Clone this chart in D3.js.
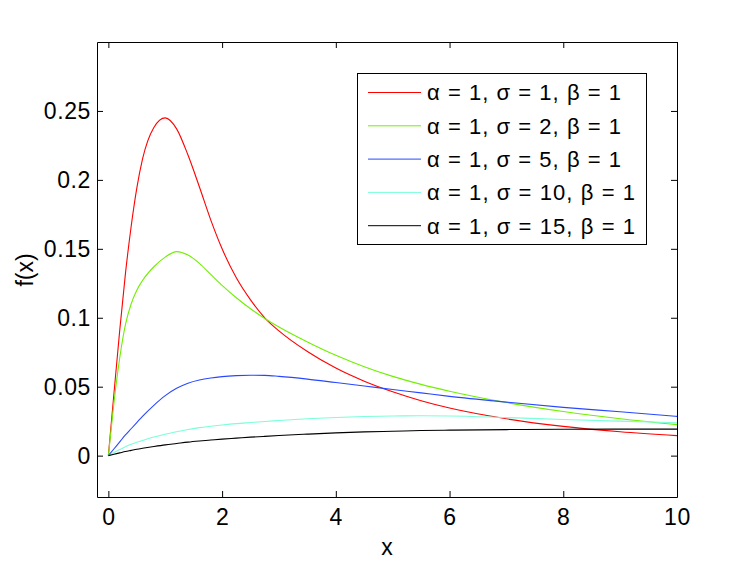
<!DOCTYPE html>
<html>
<head>
<meta charset="utf-8">
<script src="https://cdn.jsdelivr.net/npm/d3@7"></script>
<style>
  body { margin: 0; background: #fff; }
  svg { display: block; font-family: "Liberation Sans", Helvetica, Arial, sans-serif; }
  .axis text { font-size: 23px; fill: #000; letter-spacing: 0.6px; }
  .axis path, .axis line { stroke: #000; stroke-width: 1; }
</style>
</head>
<body>
<div id="viz"></div>
<script>
// x positions shared by all curves
var xs = [0, 0.1, 0.2, 0.3, 0.4, 0.5, 0.6, 0.8, 1, 1.2, 1.4, 1.6, 1.8, 2, 2.25, 2.5, 2.75, 3, 3.5, 4, 4.5, 5, 5.5, 6, 7, 8, 9, 10];

var sigma1 = [0, 0.046, 0.091, 0.132, 0.166, 0.194, 0.215, 0.238, 0.245, 0.237, 0.218, 0.195, 0.171, 0.15, 0.129, 0.113, 0.1, 0.0905, 0.0755, 0.0635, 0.054, 0.0463, 0.0398, 0.0345, 0.0267, 0.0212, 0.0173, 0.0145];
var sigma2 = [0, 0.039, 0.071, 0.095, 0.11, 0.12, 0.127, 0.137, 0.144, 0.148, 0.1455, 0.1395, 0.1315, 0.1235, 0.1145, 0.1065, 0.0995, 0.0933, 0.0825, 0.0728, 0.0645, 0.0575, 0.0517, 0.0467, 0.0385, 0.032, 0.0268, 0.0225];
var sigma5 = [0, 0.005, 0.01, 0.015, 0.0195, 0.024, 0.0285, 0.0365, 0.0435, 0.0488, 0.0525, 0.0548, 0.0563, 0.0573, 0.058, 0.0583, 0.0582, 0.0575, 0.0555, 0.053, 0.0505, 0.048, 0.0455, 0.043, 0.0388, 0.035, 0.0318, 0.0285];
var sigma10 = [0, 0.0022, 0.0044, 0.0065, 0.0082, 0.0097, 0.011, 0.0135, 0.0155, 0.0173, 0.019, 0.0203, 0.0213, 0.0222, 0.0232, 0.024, 0.0248, 0.0255, 0.0267, 0.0277, 0.0284, 0.0288, 0.0289, 0.0288, 0.0276, 0.0262, 0.025, 0.0239];
var sigma15 = [0, 0.001, 0.002, 0.003, 0.0038, 0.0046, 0.0053, 0.0066, 0.0078, 0.0088, 0.0098, 0.0106, 0.0113, 0.012, 0.0127, 0.0134, 0.014, 0.0146, 0.0156, 0.0165, 0.0172, 0.0177, 0.0182, 0.0185, 0.0189, 0.0191, 0.0192, 0.0192];

var labels = ["α = 1, σ = 1, β = 1", "α = 1, σ = 2, β = 1", "α = 1, σ = 5, β = 1", "α = 1, σ = 10, β = 1", "α = 1, σ = 15, β = 1"];
var colors = ["#ff0000", "#70f000", "#2848ff", "#7affd8", "#000000"];

var xTicks = [0, 2, 4, 6, 8, 10];
var yTicks = [0, 0.05, 0.1, 0.15, 0.2, 0.25];

var series = [sigma1, sigma2, sigma5, sigma10, sigma15];

var width = 747, height = 562;
var svg = d3.select("#viz").append("svg").attr("width", width).attr("height", height);

var x = d3.scaleLinear().domain([-0.2, 10]).range([97, 677]);
var y = d3.scaleLinear().domain([-0.03, 0.3]).range([497, 42]);

// curves
var line = d3.line()
    .x(function(d, i) { return x(xs[i]); })
    .y(function(d) { return y(d); })
    .curve(d3.curveMonotoneX);

svg.append("g").selectAll("path")
    .data(series)
  .enter().append("path")
    .attr("d", line)
    .attr("fill", "none")
    .attr("stroke", function(d, i) { return colors[i]; })
    .attr("stroke-width", 1.1);

// axes, ticks pointing inward
svg.append("g")
    .attr("class", "axis")
    .attr("transform", "translate(0,497)")
    .call(d3.axisBottom(x).tickValues(xTicks).tickSizeInner(-6).tickSizeOuter(0).tickPadding(12).tickFormat(d3.format("d")));

svg.append("g")
    .attr("class", "axis")
    .attr("transform", "translate(0,42)")
    .call(d3.axisTop(x).tickValues(xTicks).tickSizeInner(-6).tickSizeOuter(0).tickFormat(""));

svg.append("g")
    .attr("class", "axis")
    .attr("transform", "translate(97,0)")
    .call(d3.axisLeft(y).tickValues(yTicks).tickSizeInner(-6).tickSizeOuter(0).tickPadding(6).tickFormat(function(d) { return d === 0 ? "0" : String(+d.toFixed(2)); }));

svg.append("g")
    .attr("class", "axis")
    .attr("transform", "translate(677,0)")
    .call(d3.axisRight(y).tickValues(yTicks).tickSizeInner(-6).tickSizeOuter(0).tickFormat(""));

// axis labels
svg.append("text")
    .attr("x", 387)
    .attr("y", 555)
    .attr("text-anchor", "middle")
    .style("font-size", "23px")
    .text("x");

svg.append("text")
    .attr("transform", "translate(33,270) rotate(-90)")
    .attr("text-anchor", "middle")
    .style("font-size", "23px")
    .text("f(x)");

// legend
var legend = svg.append("g");

legend.append("rect")
    .attr("x", 357.5)
    .attr("y", 73.5)
    .attr("width", 289)
    .attr("height", 171)
    .attr("fill", "#fff")
    .attr("stroke", "#000");

var row = legend.selectAll(".row")
    .data(labels)
  .enter().append("g")
    .attr("class", "row")
    .attr("transform", function(d, i) { return "translate(0," + (92.5 + i * 33.3) + ")"; });

row.append("line")
    .attr("x1", 368)
    .attr("x2", 421)
    .attr("stroke", function(d, i) { return colors[i]; });

row.append("text")
    .attr("x", 427)
    .attr("dy", "0.36em")
    .style("font-size", "22px")
    .attr("textLength", function(d, i) { return i < 3 ? 194 : 208; })
    .attr("lengthAdjust", "spacing")
    .text(function(d) { return d; });
</script>
</body>
</html>
